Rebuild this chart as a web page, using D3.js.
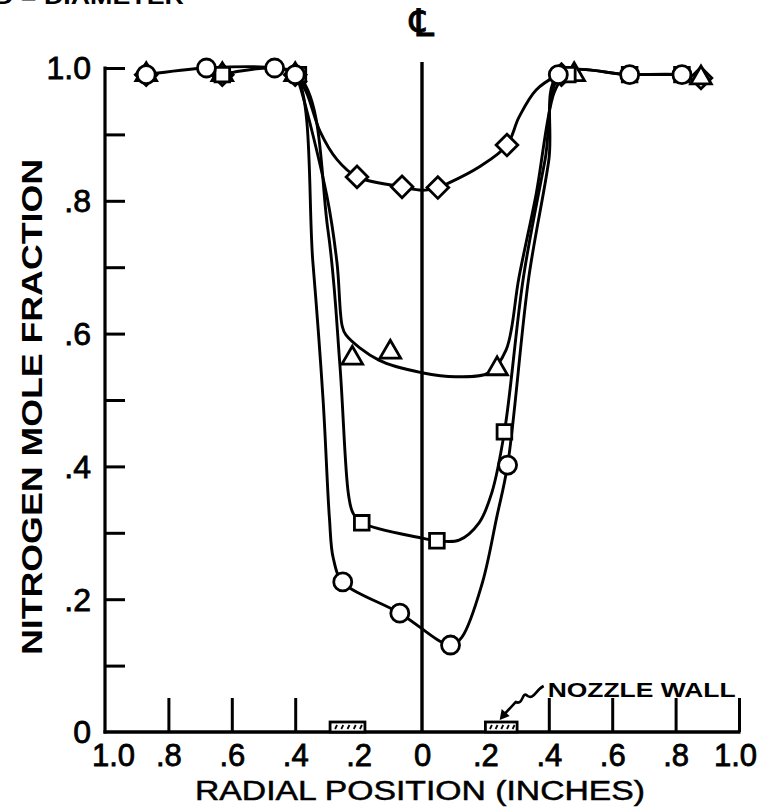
<!DOCTYPE html>
<html>
<head>
<meta charset="utf-8">
<script src="https://cdn.jsdelivr.net/npm/d3@7"></script>
<style>
  html, body { margin: 0; padding: 0; background: #fff; }
  svg { display: block; }
  text { font-family: "Liberation Sans", "DejaVu Sans", sans-serif; fill: #000; }
</style>
</head>
<body>
<svg id="chart" width="772" height="807"></svg>
<script>
// Radial position (inches) vs nitrogen mole fraction, four traverses.

// measured points, [radial position, mole fraction]
const circlePoints = [[-0.87,0.99],[-0.68,1.0],[-0.465,1.0],[-0.40,0.99],[-0.25,0.226],[-0.07,0.179],[0.09,0.131],[0.27,0.402],[0.43,0.99],[0.655,0.99],[0.82,0.99]];
const squarePoints = [[-0.63,0.99],[-0.39,0.99],[-0.19,0.315],[0.047,0.288],[0.26,0.452],[0.46,0.99],[0.655,0.99],[0.82,0.99]];
const trianglePoints = [[-0.87,0.99],[-0.63,0.99],[-0.40,0.99],[-0.22,0.563],[-0.10,0.572],[0.237,0.547],[0.48,0.99],[0.88,0.985]];
const diamondPoints = [[-0.87,0.99],[-0.63,0.99],[-0.40,0.99],[-0.205,0.836],[-0.063,0.821],[0.05,0.82],[0.268,0.884],[0.44,0.99],[0.88,0.985]];

// faired curves through each traverse
const circleCurve = [[-0.87,0.99],[-0.68,1.0],[-0.465,1.0],[-0.398,0.99],[-0.344,0.706],[-0.312,0.50],[-0.292,0.322],[-0.28,0.262],[-0.25,0.226],[-0.07,0.179],[0.09,0.131],[0.126,0.143],[0.19,0.224],[0.236,0.324],[0.27,0.402],[0.337,0.685],[0.40,0.861],[0.43,0.99],[0.655,0.99],[0.82,0.99],[0.88,0.985]];
const squareCurve = [[-0.63,0.99],[-0.394,0.99],[-0.297,0.757],[-0.259,0.553],[-0.232,0.358],[-0.218,0.33],[-0.19,0.315],[0,0.292],[0.047,0.288],[0.117,0.289],[0.18,0.315],[0.22,0.36],[0.26,0.452],[0.32,0.685],[0.388,0.861],[0.44,0.99],[0.655,0.99],[0.82,0.99]];
const triangleCurve = [[-0.40,0.99],[-0.39,0.98],[-0.30,0.807],[-0.268,0.706],[-0.252,0.612],[-0.24,0.598],[-0.136,0.56],[0,0.541],[0.107,0.535],[0.211,0.541],[0.265,0.575],[0.306,0.685],[0.36,0.81],[0.416,0.962],[0.45,0.99]];
const diamondCurve = [[-0.40,0.99],[-0.366,0.965],[-0.322,0.905],[-0.268,0.862],[-0.205,0.836],[-0.063,0.821],[0,0.816],[0.05,0.82],[0.085,0.827],[0.18,0.851],[0.268,0.884],[0.306,0.926],[0.36,0.967],[0.43,0.99]];

// nozzle wall locations on the radial axis, [inner, outer]
const nozzleWalls = [[-0.29,-0.18],[0.20,0.30]];

// axis ticks and labels
const xLabelTicks = [-1.0,-0.8,-0.6,-0.4,-0.2,0,0.2,0.4,0.6,0.8,1.0];
const xLabelText = ["1.0",".8",".6",".4",".2","0",".2",".4",".6",".8","1.0"];
const xMarkTicks = [-0.8,-0.6,-0.4,0.4,0.6,0.8,1.0];
const yLabelTicks = [0,0.2,0.4,0.6,0.8,1.0];
const yLabelText = ["0",".2",".4",".6",".8","1.0"];
const yMarkTicks = [0.1,0.2,0.3,0.4,0.5,0.6,0.7,0.8,0.9,1.0];

const svg = d3.select("#chart");
const x = d3.scaleLinear().domain([-1, 1]).range([105, 739]);
const y = d3.scaleLinear().domain([0, 1]).range([732, 68]);

const ink = "#000";

// running header, clipped by the top edge
svg.append("text").attr("x", -6).attr("y", 4)
  .style("font-size", "22px").style("font-weight", "bold")
  .attr("textLength", 190).attr("lengthAdjust", "spacingAndGlyphs")
  .text("D = DIAMETER");

// y axis: ticks inward every 0.1
const yMarks = svg.append("g").attr("transform", `translate(${x(-1)},0)`)
  .call(d3.axisLeft(y).tickValues(yMarkTicks).tickSizeInner(-20).tickSizeOuter(0).tickFormat(""));
yMarks.select(".domain").remove();
yMarks.selectAll("line").attr("stroke", ink).attr("stroke-width", 3);
svg.append("line").attr("x1", x(-1)).attr("x2", x(-1))
  .attr("y1", y(1) - 1.5).attr("y2", y(0) + 1.5)
  .attr("stroke", ink).attr("stroke-width", 3.2);

const yLabels = svg.append("g").attr("transform", `translate(${x(-1) - 14},0)`)
  .call(d3.axisLeft(y).tickValues(yLabelTicks).tickSize(0).tickPadding(0)
    .tickFormat((d, i) => yLabelText[i]));
yLabels.select(".domain").remove();
yLabels.selectAll("text").style("font-size", "32px")
  .style("font-family", "'Liberation Sans', sans-serif")
  .attr("stroke", ink).attr("stroke-width", 0.8)
  .attr("dy", "0.34em");

// x axis: baseline, upward ticks, labels
svg.append("line").attr("x1", x(-1) - 1.5).attr("x2", x(1) + 1.5)
  .attr("y1", y(0)).attr("y2", y(0))
  .attr("stroke", ink).attr("stroke-width", 3.6);
const xMarks = svg.append("g").attr("transform", `translate(0,${y(0)})`)
  .call(d3.axisBottom(x).tickValues(xMarkTicks).tickSizeInner(-34).tickSizeOuter(0).tickFormat(""));
xMarks.select(".domain").remove();
xMarks.selectAll("line").attr("stroke", ink).attr("stroke-width", 3);

const xLabels = svg.append("g").attr("transform", `translate(0,${y(0) + 12})`)
  .call(d3.axisBottom(x).tickValues(xLabelTicks).tickSize(0).tickPadding(0)
    .tickFormat((d, i) => xLabelText[i]));
xLabels.select(".domain").remove();
xLabels.selectAll("text").style("font-size", "31px")
  .style("font-family", "'Liberation Sans', sans-serif")
  .attr("stroke", ink).attr("stroke-width", 0.8)
  .attr("dy", "0.71em");
// the end labels sit a little inside the axis ends
xLabels.selectAll(".tick").filter(d => d === -1).select("text").attr("dx", 8);
xLabels.selectAll(".tick").filter(d => d === 1).select("text").attr("dx", -4);

// axis titles
svg.append("text").attr("x", 420).attr("y", 800).attr("text-anchor", "middle")
  .style("font-size", "27px").attr("stroke", ink).attr("stroke-width", 0.5)
  .attr("textLength", 450).attr("lengthAdjust", "spacingAndGlyphs")
  .text("RADIAL POSITION (INCHES)");
svg.append("text").attr("transform", "translate(42,407) rotate(-90)")
  .attr("text-anchor", "middle").style("font-size", "30px").style("font-weight", "bold")
  .attr("textLength", 496).attr("lengthAdjust", "spacingAndGlyphs")
  .text("NITROGEN MOLE FRACTION");

// centreline
svg.append("line").attr("x1", x(0)).attr("x2", x(0))
  .attr("y1", y(1) - 6).attr("y2", y(0))
  .attr("stroke", ink).attr("stroke-width", 3.4);
svg.append("text").attr("x", x(0)).attr("y", 36).attr("text-anchor", "middle")
  .style("font-family", "'DejaVu Sans', sans-serif").style("font-size", "38px")
  .attr("stroke", ink).attr("stroke-width", 0.8)
  .text("\u2104");

// nozzle wall blocks with hatching
const wallH = 10;
nozzleWalls.forEach(([a, b]) => {
  const g = svg.append("g");
  g.append("rect").attr("x", x(a)).attr("y", y(0) - wallH)
    .attr("width", x(b) - x(a)).attr("height", wallH)
    .attr("fill", "#fff").attr("stroke", ink).attr("stroke-width", 2.8);
  const n = 5;
  d3.range(n).forEach(i => {
    const hx = x(a) + (x(b) - x(a)) * (i + 0.8) / (n + 0.6);
    g.append("line").attr("x1", hx).attr("x2", hx + 2)
      .attr("y1", y(0) - 3).attr("y2", y(0) - wallH + 3)
      .attr("stroke", ink).attr("stroke-width", 1.8);
  });
});

// wall callout
const tipX = x(0.245), tipY = y(0) - wallH - 2;
svg.append("path")
  .attr("d", `M${tipX + 44},${tipY - 34} C${tipX + 36},${tipY - 30} ${tipX + 34},${tipY - 20} ${tipX + 28},${tipY - 24}
    C${tipX + 22},${tipY - 30} ${tipX + 24},${tipY - 14} ${tipX + 16},${tipY - 18}
    L${tipX + 4},${tipY - 5}`)
  .attr("fill", "none").attr("stroke", ink).attr("stroke-width", 2.6);
svg.append("path")
  .attr("d", `M${tipX},${tipY} L${tipX + 2},${tipY - 11} L${tipX + 10},${tipY - 4} Z`)
  .attr("fill", ink);
svg.append("text").attr("x", tipX + 48).attr("y", tipY - 23)
  .style("font-size", "21px").style("font-weight", "bold")
  .attr("textLength", 188).attr("lengthAdjust", "spacingAndGlyphs")
  .text("NOZZLE WALL");

// faired curves
const line = d3.line().x(d => x(d[0])).y(d => y(d[1])).curve(d3.curveCatmullRom.alpha(0.5));
[circleCurve, squareCurve, triangleCurve, diamondCurve].forEach(c => {
  svg.append("path").attr("d", line(c)).attr("fill", "none")
    .attr("stroke", ink).attr("stroke-width", 2.9).attr("stroke-linejoin", "round");
});

// data symbols
const sym = {
  circle: d3.symbol().type(d3.symbolCircle).size(255),
  square: d3.symbol().type(d3.symbolSquare).size(215),
  triangle: d3.symbol().type(d3.symbolTriangle).size(185),
  diamond: d3.symbol().type(d3.symbolSquare).size(235)
};
function drawSymbols(pts, gen, rot) {
  svg.append("g").selectAll("path").data(pts).join("path")
    .attr("transform", d => `translate(${x(d[0])},${y(d[1])}) rotate(${rot})`)
    .attr("d", gen)
    .attr("fill", "#fff").attr("stroke", ink).attr("stroke-width", 2.8);
}
drawSymbols(diamondPoints, sym.diamond, 45);
drawSymbols(trianglePoints, sym.triangle, 0);
drawSymbols(squarePoints, sym.square, 0);
drawSymbols(circlePoints, sym.circle, 0);
</script>
</body>
</html>
